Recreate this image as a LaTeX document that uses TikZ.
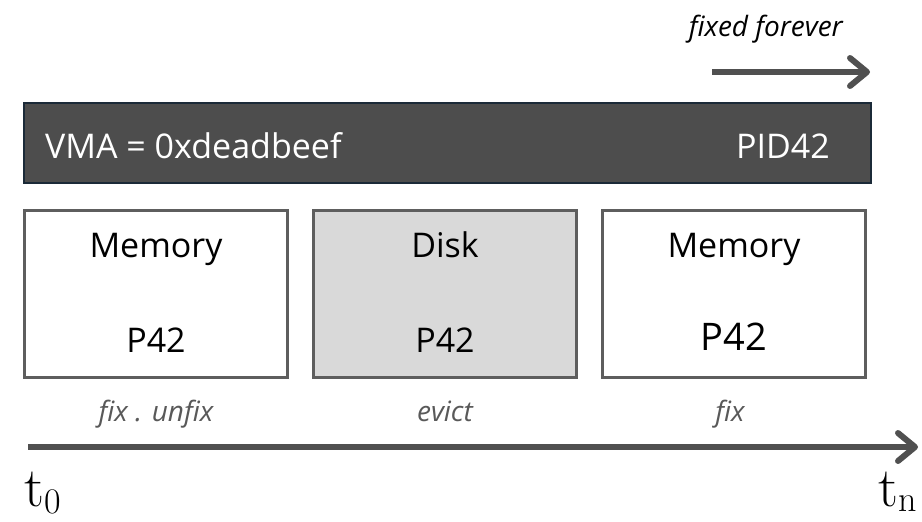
\documentclass[tikz,border=0pt]{standalone}
\usepackage{fontspec}
\setsansfont{Open Sans}
\usetikzlibrary{arrows.meta,positioning}
\definecolor{barfill}{HTML}{4D4D4D}
\definecolor{barline}{HTML}{1B2A38}
\definecolor{boxline}{HTML}{5E5E5E}
\definecolor{diskfill}{HTML}{D9D9D9}
\definecolor{notegray}{HTML}{595959}
\definecolor{arrowgray}{HTML}{505050}

\begin{document}
\begin{tikzpicture}[x=1pt,y=-1pt,node distance=23pt,
 font=\sffamily\fontsize{34}{40}\selectfont,
 bar/.style={draw=barline,fill=barfill,line width=2pt,minimum width=847pt,minimum height=80pt,inner sep=0pt},
 page/.style={draw=boxline,line width=3pt,minimum width=263pt,minimum height=167pt,inner sep=0pt},
 word/.style={anchor=base,inner sep=0pt},
 note/.style={anchor=base,inner sep=0pt,font=\sffamily\itshape\fontsize{28}{34}\selectfont},
 tick/.style={inner sep=0pt,font=\rmfamily\fontsize{56}{60}\selectfont},
 timeline/.style={draw=arrowgray,line width=6pt,-{Straight Barb[length=17pt,width=28pt,round]}}]
\useasboundingbox (0,0) rectangle (922,522);

% address space of the process
\node[bar] (vma) at (447.5,143) {};
\node[word,anchor=base west,text=white] (addr) at (45,158) {VMA = 0xdeadbeef};
\node[word,anchor=base east,text=white] (pid) at (830,158) {PID42};

% where the page lives over time
\node[page] (mem1) at (156,294) {};
\node[page,fill=diskfill,right=of mem1] (disk) {};
\node[page,right=of disk] (mem2) {};
\node[word] (mem1name) at ([yshift=-48pt]mem1.north) {Memory};
\node[word] (diskname) at ([yshift=-48pt]disk.north) {Disk};
\node[word] (mem2name) at ([yshift=-48pt]mem2.north) {Memory};
\node[word] (mem1page) at ([yshift=27pt]mem1.south) {P42};
\node[word] (diskpage) at ([yshift=27pt]disk.south) {P42};
\node[word,font=\sffamily\fontsize{38}{44}\selectfont] (mem2page) at ([yshift=29pt]mem2.south) {P42};

\node[note,text=notegray] (fixunfix) at ([yshift=-42pt]mem1.south) {fix . unfix};
\node[note,text=notegray] (evict) at ([yshift=-42pt]disk.south) {evict};
\node[note,text=notegray] (fix) at ([xshift=-4pt,yshift=-42pt]mem2.south) {fix};

% fixed from here on
\node[note,anchor=base east] (forever) at (843,36) {fixed forever};
\coordinate (fixstart) at (712,72);
\coordinate (fixend) at (870,72);
\draw[timeline] (fixstart) -- (fixend);

% time axis
\coordinate (tstart) at (28,447);
\coordinate (tend) at (918,447);
\draw[timeline] (tstart) -- (tend);
\node[tick,anchor=base west] (t0) at (24,506) {t\raisebox{-7pt}{\fontsize{36}{40}\selectfont 0}};
\node[tick,anchor=base east] (tn) at (917,506) {t\raisebox{-5pt}{\fontsize{36}{40}\selectfont n}};
\end{tikzpicture}
\end{document}
